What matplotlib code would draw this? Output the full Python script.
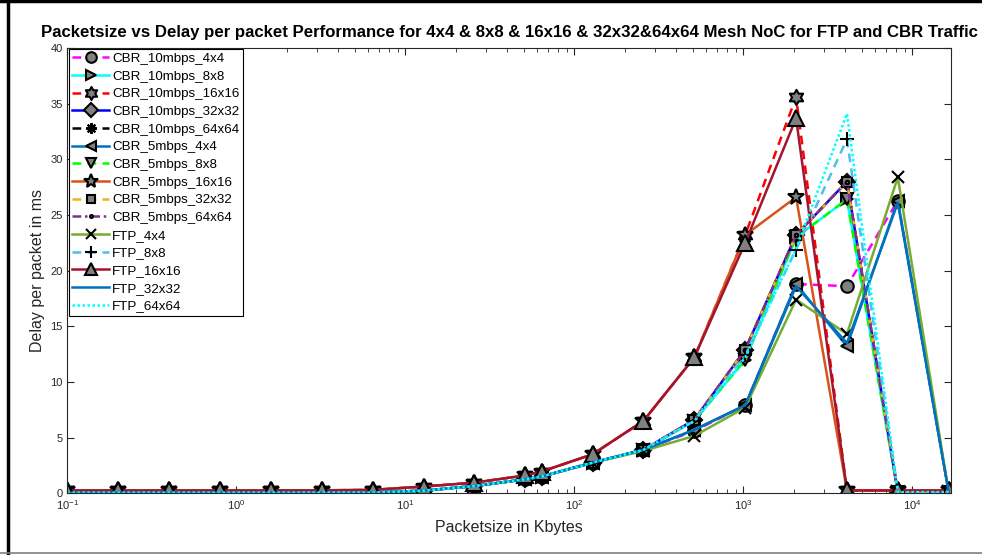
import matplotlib
matplotlib.use("Agg")
import matplotlib.pyplot as plt
from matplotlib.path import Path
from matplotlib.lines import Line2D

plt.rcParams['font.family'] = ['Liberation Sans', 'DejaVu Sans']
plt.rcParams['mathtext.fontset'] = 'custom'
plt.rcParams['mathtext.rm'] = 'Liberation Sans'
plt.rcParams['mathtext.it'] = 'Liberation Sans:italic'

# Packet sizes (Kbytes)
packet_size = [0.1, 0.2, 0.4, 0.8, 1.6, 3.2, 6.4, 12.8, 25.6, 51.2, 64,
               128, 256, 512, 1024, 2048, 4096, 8192, 16384]

# Delay per packet (ms)
cbr10_4x4 = [0.05, 0.05, 0.05, 0.05, 0.05, 0.05, 0.06, 0.23, 0.65, 1.25, 1.5,
             2.75, 3.9, 5.6, 7.9, 18.8, 18.6, 26.3, 0.1]
cbr10_8x8 = [0.05, 0.05, 0.05, 0.05, 0.05, 0.05, 0.06, 0.23, 0.65, 1.25, 1.5,
             2.75, 3.9, 6.5, 12.0, 23.0, 26.4, 0.1, 0.1]
cbr10_16x16 = [0.25, 0.25, 0.25, 0.25, 0.25, 0.26, 0.3, 0.6, 0.95, 1.6, 1.95,
               3.5, 6.5, 12.2, 23.2, 35.6, 0.25, 0.25, 0.25]
cbr10_32x32 = [0.05, 0.05, 0.05, 0.05, 0.05, 0.05, 0.06, 0.23, 0.65, 1.25, 1.5,
               2.75, 3.9, 6.6, 12.9, 23.2, 28.0, 0.1, 0.1]
cbr10_64x64 = [0.05, 0.05, 0.05, 0.05, 0.05, 0.05, 0.06, 0.23, 0.65, 1.25, 1.5,
               2.75, 3.9, 6.6, 12.9, 23.2, 28.0, 0.1, 0.1]
cbr5_4x4 = [0.05, 0.05, 0.05, 0.05, 0.05, 0.05, 0.06, 0.23, 0.65, 1.25, 1.5,
            2.75, 3.9, 5.7, 7.9, 18.8, 13.2, 26.3, 0.1]
cbr5_8x8 = [0.05, 0.05, 0.05, 0.05, 0.05, 0.05, 0.06, 0.23, 0.65, 1.25, 1.5,
            2.75, 3.9, 6.5, 12.0, 23.0, 26.4, 0.1, 0.1]
cbr5_16x16 = [0.25, 0.25, 0.25, 0.25, 0.25, 0.26, 0.3, 0.6, 0.95, 1.6, 1.95,
              3.5, 6.5, 12.2, 23.2, 26.6, 0.25, 0.25, 0.25]
cbr5_32x32 = [0.05, 0.05, 0.05, 0.05, 0.05, 0.05, 0.06, 0.23, 0.65, 1.25, 1.5,
              2.75, 3.9, 6.6, 12.9, 23.2, 28.0, 0.1, 0.1]
cbr5_64x64 = [0.05, 0.05, 0.05, 0.05, 0.05, 0.05, 0.06, 0.23, 0.65, 1.25, 1.5,
              2.75, 3.9, 6.6, 12.9, 23.2, 28.0, 0.1, 0.1]
ftp_4x4 = [0.05, 0.05, 0.05, 0.05, 0.05, 0.05, 0.06, 0.23, 0.65, 1.25, 1.5,
           2.75, 3.8, 5.15, 7.7, 17.4, 14.3, 28.4, 0.1]
ftp_8x8 = [0.05, 0.05, 0.05, 0.05, 0.05, 0.05, 0.06, 0.23, 0.65, 1.25, 1.5,
           2.75, 3.9, 6.5, 12.4, 21.9, 31.8, 0.1, 0.1]
ftp_16x16 = [0.25, 0.25, 0.25, 0.25, 0.25, 0.26, 0.3, 0.6, 0.95, 1.6, 1.95,
             3.5, 6.5, 12.2, 22.5, 33.7, 0.25, 0.25, 0.25]
ftp_32x32 = [0.05, 0.05, 0.05, 0.05, 0.05, 0.05, 0.06, 0.23, 0.65, 1.25, 1.5,
             2.75, 3.9, 5.7, 7.9, 18.6, 13.5, 26.1, 0.1]
ftp_64x64 = [0.05, 0.05, 0.05, 0.05, 0.05, 0.05, 0.06, 0.23, 0.65, 1.25, 1.5,
             2.75, 3.9, 6.5, 12.2, 22.0, 34.1, 0.1, 0.1]

labels = ['CBR_10mbps_4x4', 'CBR_10mbps_8x8', 'CBR_10mbps_16x16',
          'CBR_10mbps_32x32', 'CBR_10mbps_64x64', 'CBR_5mbps_4x4',
          'CBR_5mbps_8x8', 'CBR_5mbps_16x16', 'CBR_5mbps_32x32',
          'CBR_5mbps_64x64', 'FTP_4x4', 'FTP_8x8', 'FTP_16x16',
          'FTP_32x32', 'FTP_64x64']
series = [cbr10_4x4, cbr10_8x8, cbr10_16x16, cbr10_32x32, cbr10_64x64,
          cbr5_4x4, cbr5_8x8, cbr5_16x16, cbr5_32x32, cbr5_64x64,
          ftp_4x4, ftp_8x8, ftp_16x16, ftp_32x32, ftp_64x64]

hexagram = Path.unit_regular_star(6, 0.577)
asterisk = (8, 2, 0)

styles = [
    dict(color=(1, 0, 1), ls=(0, (3.5, 2.5)), marker='o', ms=9),
    dict(color=(0, 1, 1), ls='-', marker='>', ms=9),
    dict(color=(1, 0, 0), ls=(0, (3.5, 2.5)), marker=hexagram, ms=11),
    dict(color=(0, 0, 1), ls='-', marker='D', ms=8),
    dict(color='k', ls=(0, (3.5, 2.5)), marker=asterisk, ms=9),
    dict(color=(0, 0.447, 0.741), ls='-', marker='<', ms=9),
    dict(color=(0, 1, 0), ls=(0, (3.5, 2.5)), marker='v', ms=9),
    dict(color=(0.85, 0.325, 0.098), ls='-', marker='*', ms=12),
    dict(color=(0.929, 0.694, 0.125), ls=(0, (3.5, 2.5)), marker='s', ms=7),
    dict(color=(0.494, 0.184, 0.556), ls=(0, (3.5, 1.5, 1, 1.5)), marker='.', ms=5),
    dict(color=(0.466, 0.674, 0.188), ls='-', marker='x', ms=8),
    dict(color=(0.301, 0.745, 0.933), ls=(0, (3.5, 2.5)), marker='+', ms=10),
    dict(color=(0.635, 0.078, 0.184), ls='-', marker='^', ms=11),
    dict(color=(0, 0.447, 0.741), ls='-', marker=None, ms=0),
    dict(color=(0, 1, 1), ls=(0, (1, 1)), marker=None, ms=0),
]

fig = plt.figure(figsize=(9.82, 5.55), dpi=100)
ax = fig.add_axes([0.0687, 0.1113, 0.8997, 0.8021])

for y, lab, st in zip(series, labels, styles):
    ax.plot(packet_size, y, color=st['color'], linestyle=st['ls'], lw=1.8,
            marker=st['marker'], markersize=st['ms'], markerfacecolor=(0.5, 0.5, 0.5),
            markeredgecolor='k', markeredgewidth=1.5, label=lab)

ax.set_xscale('log')
ax.set_xlim(0.1, 16900)
ax.set_ylim(0, 40)
ax.set_yticks(range(0, 41, 5))
ax.tick_params(which='both', direction='in', top=True, right=True,
               labelsize=8, labelcolor=(0.15, 0.15, 0.15), color=(0.15, 0.15, 0.15))
ax.tick_params(which='major', length=5)
ax.tick_params(which='minor', length=3)
for s in ax.spines.values():
    s.set_color((0.15, 0.15, 0.15))
    s.set_linewidth(0.8)

ax.set_xlabel('Packetsize in Kbytes', fontsize=11.5, color=(0.15, 0.15, 0.15), labelpad=6)
ax.set_ylabel('Delay per packet in ms', fontsize=11.5, color=(0.15, 0.15, 0.15))
ax.set_title('Packetsize vs Delay per packet Performance for 4x4 & 8x8 & 16x16 & 32x32&64x64 '
             'Mesh NoC for FTP and CBR Traffic', fontsize=12.1, fontweight='bold', pad=8)

leg = ax.legend(loc='upper left', fontsize=9.6, frameon=True, fancybox=False,
                edgecolor='k', framealpha=1, borderpad=0.25, borderaxespad=0.1,
                labelspacing=0.4, handlelength=2.8, handletextpad=0.2,
                markerscale=0.85)
leg.get_frame().set_linewidth(0.8)

# outer frame lines
fig.add_artist(Line2D([0.008, 0.008], [0, 1], transform=fig.transFigure, color='k', lw=2.5))
fig.add_artist(Line2D([0, 1], [0.998, 0.998], transform=fig.transFigure, color='k', lw=2.5))
fig.add_artist(Line2D([0, 1], [0.004, 0.004], transform=fig.transFigure, color='0.5', lw=1.2))

fig.savefig('out.png', dpi=100)
